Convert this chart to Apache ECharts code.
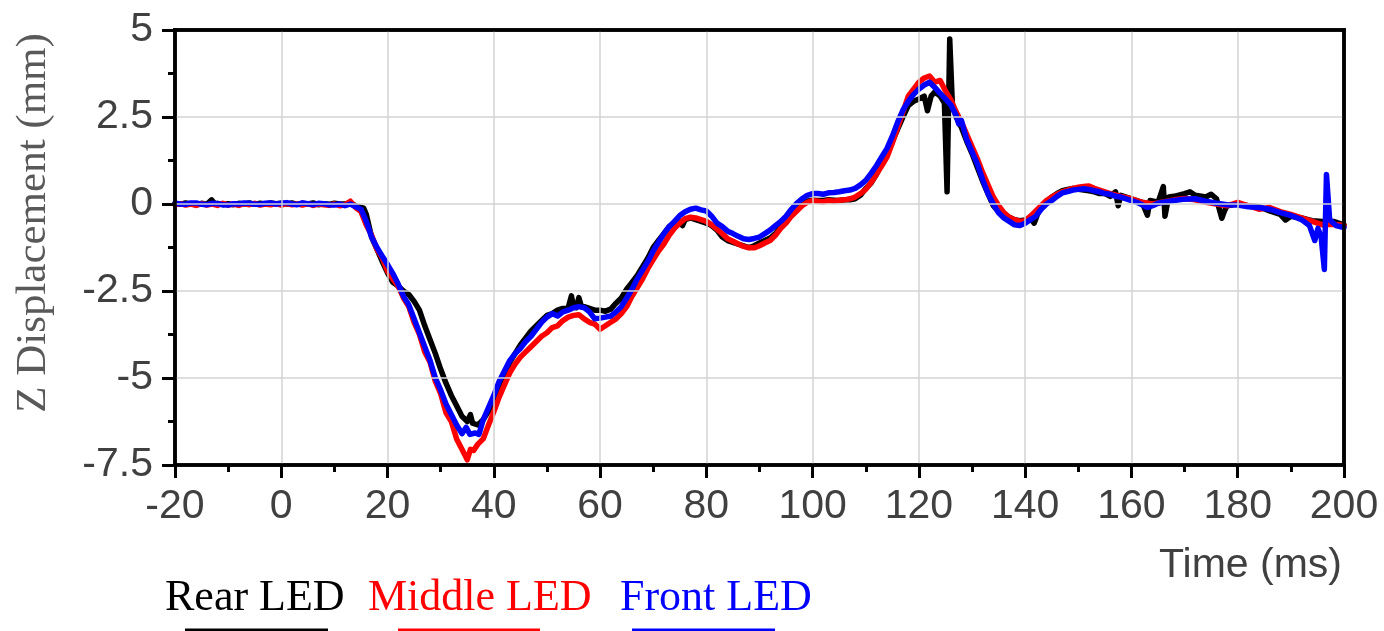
<!DOCTYPE html>
<html>
<head>
<meta charset="utf-8">
<script src="https://cdn.jsdelivr.net/npm/echarts@6/dist/echarts.min.js"></script>
<style>
html,body{margin:0;padding:0;background:#fff;}
#chart{width:1384px;height:631px;}
</style>
</head>
<body>
<div id="chart"></div>
<script>
// ---- data (time in ms, Z displacement in mm) ----
const seriesNames = ['Rear LED', 'Middle LED', 'Front LED'];
const seriesColors = ['#000000', '#ff0000', '#0000ff'];

const rearLED = [
[-20,0.02],[-19,-0.01],[-18,0.03],[-17,0.0],[-16,-0.02],[-15,0.02],[-14,-0.01],[-13.1,0.12],[-12.5,0.0],[-12,0.02],[-11,-0.02],[-10,0.01],[-9,-0.02],[-8,0.02],[-7,0.0],[-6,0.03],[-5,-0.01],[-4,0.02],[-3,0.0],[-2,0.03],[-1,0.01],[0,0.02],[1,0.0],[2,0.03],[3,-0.01],[4,0.02],[5,0.0],[6,0.03],[7,-0.02],[8,0.01],[9,-0.01],[10,0.02],[11,0.0],[12,0.0],[13,0.03],[14,-0.05],[15,-0.1],[15.5,-0.12],[16,-0.3],
[17,-0.95],[18,-1.3],[19,-1.65],[20,-1.98],[21,-2.25],[22,-2.36],[23,-2.5],[24,-2.6],[25,-2.8],[26,-3.05],[27,-3.5],[28,-3.9],[29,-4.3],[30,-4.75],[31,-5.15],[32,-5.5],[33,-5.8],[34,-6.1],[35,-6.25],[35.6,-6.05],[36,-6.3],[37,-6.35],[38,-6.2],[39,-5.95],[40,-5.6],[41,-5.25],[42,-4.9],[43,-4.55],[44,-4.3],[45,-4.05],[46,-3.85],[47,-3.65],[48,-3.5],[49,-3.35],[50,-3.2],[51,-3.15],[52,-3.05],[53,-3.0],[54,-2.98],[54.6,-2.64],[55,-2.95],[55.5,-2.98],[56,-2.69],[56.5,-2.95],[57,-2.95],[58,-3.0],[59,-3.05],[60,-3.05],[61,-3.08],[62,-3.02],[63,-2.85],[64,-2.7],[65,-2.45],[66,-2.25],[67,-2.05],[68,-1.8],[69,-1.55],[70,-1.25],[71,-1.05],[72,-0.85],[73,-0.65],[74,-0.55],[75,-0.5],[75.5,-0.62],[76,-0.45],[77,-0.4],[78,-0.45],[79,-0.5],[80,-0.55],[81,-0.62],[82,-0.75],[83,-0.95],[84,-1.05],[85,-1.1],[86,-1.15],[87,-1.2],[88,-1.25],[89,-1.2],[90,-1.12],[91,-1.05],[92,-0.98],[93,-0.85],[94,-0.65],[95,-0.45],[96,-0.3],[97,-0.12],[98,-0.02],[99,0.08],[100,0.11],[101,0.1],[102,0.1],[103,0.12],[104,0.11],[105,0.1],[106,0.12],[107,0.12],[108,0.15],[109,0.25],[110,0.45],[111,0.6],[112,0.85],[113,1.15],[114,1.45],[115,1.8],[116,2.15],[117,2.5],[118,2.83],[119,2.95],[120,3.02],[121,3.1],[121.6,2.68],[122.3,3.1],[123,3.22],[124,3.1],[124.8,2.9],[125.3,0.35],[125.8,4.74],[126.3,2.85],[127,2.5],[128,2.2],[129,1.8],[130,1.45],[131,1.05],[132,0.65],[133,0.3],[134,-0.05],[135,-0.22],[136,-0.3],[137,-0.38],[138,-0.45],[139,-0.48],[140,-0.46],[141,-0.42],[141.7,-0.55],[142.3,-0.3],[143,-0.1],[144,0.05],[145,0.2],[146,0.3],[147,0.38],[148,0.42],[149,0.45],[150,0.42],[151,0.4],[152,0.38],[153,0.35],[154,0.3],[155,0.3],[156,0.22],[157,0.35],[157.5,-0.05],[158,0.25],[160,0.15],[162,0.05],[163,-0.32],[163.5,0.1],[165,0.05],[166,0.5],[166.3,-0.35],[167,0.2],[168,0.22],[170,0.3],[171,0.35],[172,0.25],[174,0.2],[175,0.28],[176,0.15],[177,-0.41],[177.5,-0.2],[178,-0.05],[180,0.0],[182,-0.05],[184,-0.08],[186,-0.2],[188,-0.3],[189,-0.46],[190,-0.35],[192,-0.4],[194,-0.48],[196,-0.5],[198,-0.5],[200,-0.6]
];

const middleLED = [
[-20,-0.02],[-19,0.01],[-18,-0.03],[-17,0.0],[-16,-0.04],[-15,0.01],[-14,-0.03],[-13,0.0],[-12,-0.04],[-11,0.02],[-10,-0.03],[-9,0.0],[-8,-0.04],[-7,0.01],[-6,-0.02],[-5,0.02],[-4,-0.03],[-3,0.0],[-2,-0.02],[-1,0.01],[0,-0.03],[1,0.01],[2,-0.02],[3,0.0],[4,-0.03],[5,0.01],[6,-0.04],[7,0.0],[8,-0.02],[9,-0.04],[10,0.0],[11,-0.05],[12,-0.02],[13,0.08],[14,-0.1],[15,-0.22],[16,-0.6],
[17,-0.9],[18,-1.3],[19,-1.55],[20,-1.93],[21,-2.15],[22,-2.36],[23,-2.7],[24,-2.95],[25,-3.4],[26,-3.75],[27,-4.25],[28,-4.55],[29,-5.1],[30,-5.45],[31,-6.0],[32,-6.25],[33,-6.75],[34,-7.05],[35,-7.35],[35.6,-7.05],[36.2,-7.08],[37,-6.9],[38,-6.75],[39,-6.35],[40,-5.97],[41,-5.55],[42,-5.2],[43,-4.85],[44,-4.6],[45,-4.4],[46,-4.25],[47,-4.1],[48,-3.95],[49,-3.8],[50,-3.7],[51,-3.55],[52,-3.5],[53,-3.35],[54,-3.25],[55,-3.2],[56,-3.18],[57,-3.3],[58,-3.4],[59,-3.45],[60,-3.6],[61,-3.5],[62,-3.4],[63,-3.3],[64,-3.15],[65,-2.95],[66,-2.65],[67,-2.4],[68,-2.15],[69,-1.85],[70,-1.6],[71,-1.35],[72,-1.15],[73,-0.9],[74,-0.7],[75,-0.55],[76,-0.42],[77,-0.38],[78,-0.4],[79,-0.45],[80,-0.5],[81,-0.6],[82,-0.72],[83,-0.85],[84,-1.0],[85,-1.07],[86,-1.15],[87,-1.22],[88,-1.26],[89,-1.26],[90,-1.2],[91,-1.12],[92,-1.05],[93,-0.9],[94,-0.7],[95,-0.55],[96,-0.35],[97,-0.2],[98,-0.05],[99,0.05],[100,0.1],[101,0.08],[102,0.06],[103,0.1],[104,0.08],[105,0.11],[106,0.12],[107,0.15],[108,0.2],[109,0.3],[110,0.42],[111,0.62],[112,0.85],[113,1.1],[114,1.35],[115,1.75],[116,2.2],[117,2.65],[118,3.1],[119,3.3],[120,3.5],[121,3.62],[122,3.68],[123,3.5],[124,3.55],[125,3.25],[126,3.0],[127,2.65],[128,2.35],[129,2.0],[130,1.65],[131,1.3],[132,0.9],[133,0.55],[134,0.2],[135,-0.05],[136,-0.25],[137,-0.38],[138,-0.45],[139,-0.5],[140,-0.48],[141,-0.35],[142,-0.2],[143,-0.05],[144,0.1],[145,0.2],[146,0.28],[147,0.35],[148,0.4],[149,0.45],[150,0.48],[151,0.5],[152,0.52],[153,0.45],[154,0.4],[156,0.3],[158,0.22],[160,0.15],[162,0.05],[164,0.0],[166,0.06],[168,0.12],[170,0.16],[172,0.12],[174,0.05],[176,0.0],[178,-0.05],[180,0.05],[182,-0.05],[184,-0.15],[186,-0.1],[188,-0.22],[190,-0.3],[192,-0.4],[194,-0.5],[196,-0.6],[198,-0.58],[200,-0.62]
];

const frontLED = [
[-20,0.02],[-19,0.0],[-18,-0.01],[-17,0.03],[-16,0.03],[-15,-0.01],[-14,-0.02],[-13,0.02],[-12,0.01],[-11,-0.02],[-10,-0.03],[-9,0.01],[-8,0.0],[-7,0.03],[-6,0.02],[-5,-0.01],[-4,-0.01],[-3,0.02],[-2,0.03],[-1,0.0],[0,0.02],[1,0.04],[2,0.0],[3,-0.02],[4,0.03],[5,0.01],[6,-0.02],[7,0.02],[8,0.01],[9,-0.02],[10,-0.03],[11,0.0],[12,-0.05],[13,0.0],[14,-0.08],[15,-0.15],[16,-0.5],
[17,-0.95],[18,-1.25],[19,-1.5],[20,-1.74],[21,-2.0],[22,-2.3],[23,-2.65],[24,-2.9],[25,-3.3],[26,-3.7],[27,-4.1],[28,-4.5],[29,-5.0],[30,-5.35],[31,-5.75],[32,-6.05],[33,-6.35],[34,-6.6],[34.8,-6.42],[35.5,-6.62],[36.5,-6.58],[37.2,-6.62],[38,-6.2],[39,-5.85],[40,-5.5],[41,-5.1],[42,-4.8],[43,-4.5],[44,-4.3],[45,-4.15],[46,-3.95],[47,-3.8],[48,-3.6],[49,-3.4],[50,-3.25],[51,-3.15],[52,-3.22],[53,-3.1],[54,-3.05],[55,-2.98],[56,-2.95],[57,-2.98],[58,-3.1],[59,-3.3],[60,-3.28],[61,-3.25],[62,-3.22],[63,-3.1],[64,-2.95],[65,-2.7],[66,-2.45],[67,-2.15],[68,-1.9],[69,-1.65],[70,-1.35],[71,-1.1],[72,-0.85],[73,-0.65],[74,-0.5],[75,-0.33],[76,-0.22],[77,-0.15],[78,-0.12],[79,-0.17],[80,-0.2],[81,-0.35],[82,-0.55],[83,-0.65],[84,-0.78],[85,-0.85],[86,-0.93],[87,-1.0],[88,-1.02],[89,-0.99],[90,-0.95],[91,-0.85],[92,-0.75],[93,-0.62],[94,-0.5],[95,-0.35],[96,-0.15],[97,0.02],[98,0.15],[99,0.25],[100,0.3],[101,0.3],[102,0.28],[103,0.32],[104,0.33],[105,0.35],[106,0.38],[107,0.4],[108,0.45],[109,0.55],[110,0.68],[111,0.88],[112,1.1],[113,1.35],[114,1.6],[115,1.95],[116,2.35],[117,2.7],[118,2.95],[119,3.15],[120,3.3],[121,3.42],[122,3.5],[123,3.35],[124,3.18],[125,3.02],[126,2.85],[127,2.55],[127.5,2.3],[128,2.4],[129,1.85],[130,1.5],[131,1.15],[132,0.7],[133,0.3],[134,0.0],[135,-0.25],[136,-0.4],[137,-0.5],[138,-0.6],[139,-0.62],[140,-0.55],[141,-0.45],[142,-0.35],[143,-0.15],[144,0.0],[145,0.1],[146,0.22],[147,0.32],[148,0.36],[149,0.4],[150,0.42],[151,0.44],[152,0.42],[153,0.38],[154,0.35],[155,0.3],[156,0.28],[157,0.22],[158,0.2],[159,0.15],[160,0.1],[161,0.05],[162,-0.02],[163,-0.1],[164,-0.05],[165,0.02],[166,0.05],[168,0.1],[170,0.14],[172,0.15],[174,0.08],[176,0.02],[178,-0.02],[180,-0.03],[182,-0.08],[184,-0.1],[186,-0.15],[188,-0.25],[190,-0.33],[192,-0.45],[193.5,-0.62],[194.5,-1.05],[195.1,-0.7],[195.7,-0.95],[196.3,-1.88],[196.7,0.85],[197.3,-0.45],[198.5,-0.62],[200,-0.68]
];

const xRange = [-20, 200, 20];
const yRange = [-7.5, 5, 2.5];

const chart = echarts.init(document.getElementById('chart'), null, {renderer: 'canvas'});
const labelColor = '#404040';
const sans = "'Liberation Sans', Arial, sans-serif";
const serif = "'Liberation Serif', 'Times New Roman', serif";

const legendX = [[165, 185, 328], [368, 398, 540], [620, 632, 775]];
const graphics = [
  {type:'text', x:1342, y:566, style:{text:'Time (ms)', fill:labelColor, font:'41px ' + sans, textAlign:'right', textVerticalAlign:'middle'}},
  {type:'text', x:34, y:223, rotation:Math.PI/2, style:{text:'Z Displacement (mm)', fill:'#595959', font:'43px ' + serif, textAlign:'center', textVerticalAlign:'middle'}}
];
seriesNames.forEach((n, i) => {
  graphics.push({type:'text', x:legendX[i][0], y:598, style:{text:n, fill:seriesColors[i], font:'44px ' + serif, textAlign:'left', textVerticalAlign:'middle'}});
  graphics.push({type:'line', shape:{x1:legendX[i][1], y1:630, x2:legendX[i][2], y2:630}, style:{stroke:seriesColors[i], lineWidth:3}});
});

const allData = [rearLED, middleLED, frontLED];
const frameAxis = {show:true, onZero:false, lineStyle:{color:'#000', width:3.5, cap:'square'}};
const gridLine = {show:true, showMinLine:false, showMaxLine:false, lineStyle:{color:'#d3d3d3', width:1.5}};

chart.setOption({
  animation: false,
  backgroundColor: '#fff',
  grid: {left:175, right:40, top:30, bottom:166, show:true, borderColor:'#000', borderWidth:3.5, backgroundColor:'rgba(0,0,0,0)'},
  xAxis: [{
    type:'value', min:xRange[0], max:xRange[1], interval:xRange[2], position:'bottom', z:10,
    axisLine:frameAxis,
    axisTick:{show:true, inside:false, length:13, lineStyle:{color:'#000', width:3}},
    minorTick:{show:true, splitNumber:2, length:7, lineStyle:{color:'#000', width:3}},
    axisLabel:{color:labelColor, fontSize:41, fontFamily:sans, margin:21},
    splitLine:gridLine
  }, {
    type:'value', min:xRange[0], max:xRange[1], interval:xRange[2], position:'top', z:10,
    axisLine:frameAxis, axisTick:{show:false}, axisLabel:{show:false}, splitLine:{show:false}
  }],
  yAxis: [{
    type:'value', min:yRange[0], max:yRange[1], interval:yRange[2], position:'left', z:10,
    axisLine:frameAxis,
    axisTick:{show:true, inside:false, length:13, lineStyle:{color:'#000', width:3}},
    minorTick:{show:true, splitNumber:2, length:7, lineStyle:{color:'#000', width:3}},
    axisLabel:{color:labelColor, fontSize:41, fontFamily:sans, margin:22},
    splitLine:gridLine
  }, {
    type:'value', min:yRange[0], max:yRange[1], interval:yRange[2], position:'right', z:10,
    axisLine:frameAxis, axisTick:{show:false}, axisLabel:{show:false}, splitLine:{show:false}
  }],
  series: seriesNames.map((n, i) => ({
    name:n, type:'line', data:allData[i], showSymbol:false, symbol:'none',
    lineStyle:{color:seriesColors[i], width:5.5, join:'round', cap:'round'},
    itemStyle:{color:seriesColors[i]}, z:2+i
  })),
  graphic: graphics
});
</script>
</body>
</html>
